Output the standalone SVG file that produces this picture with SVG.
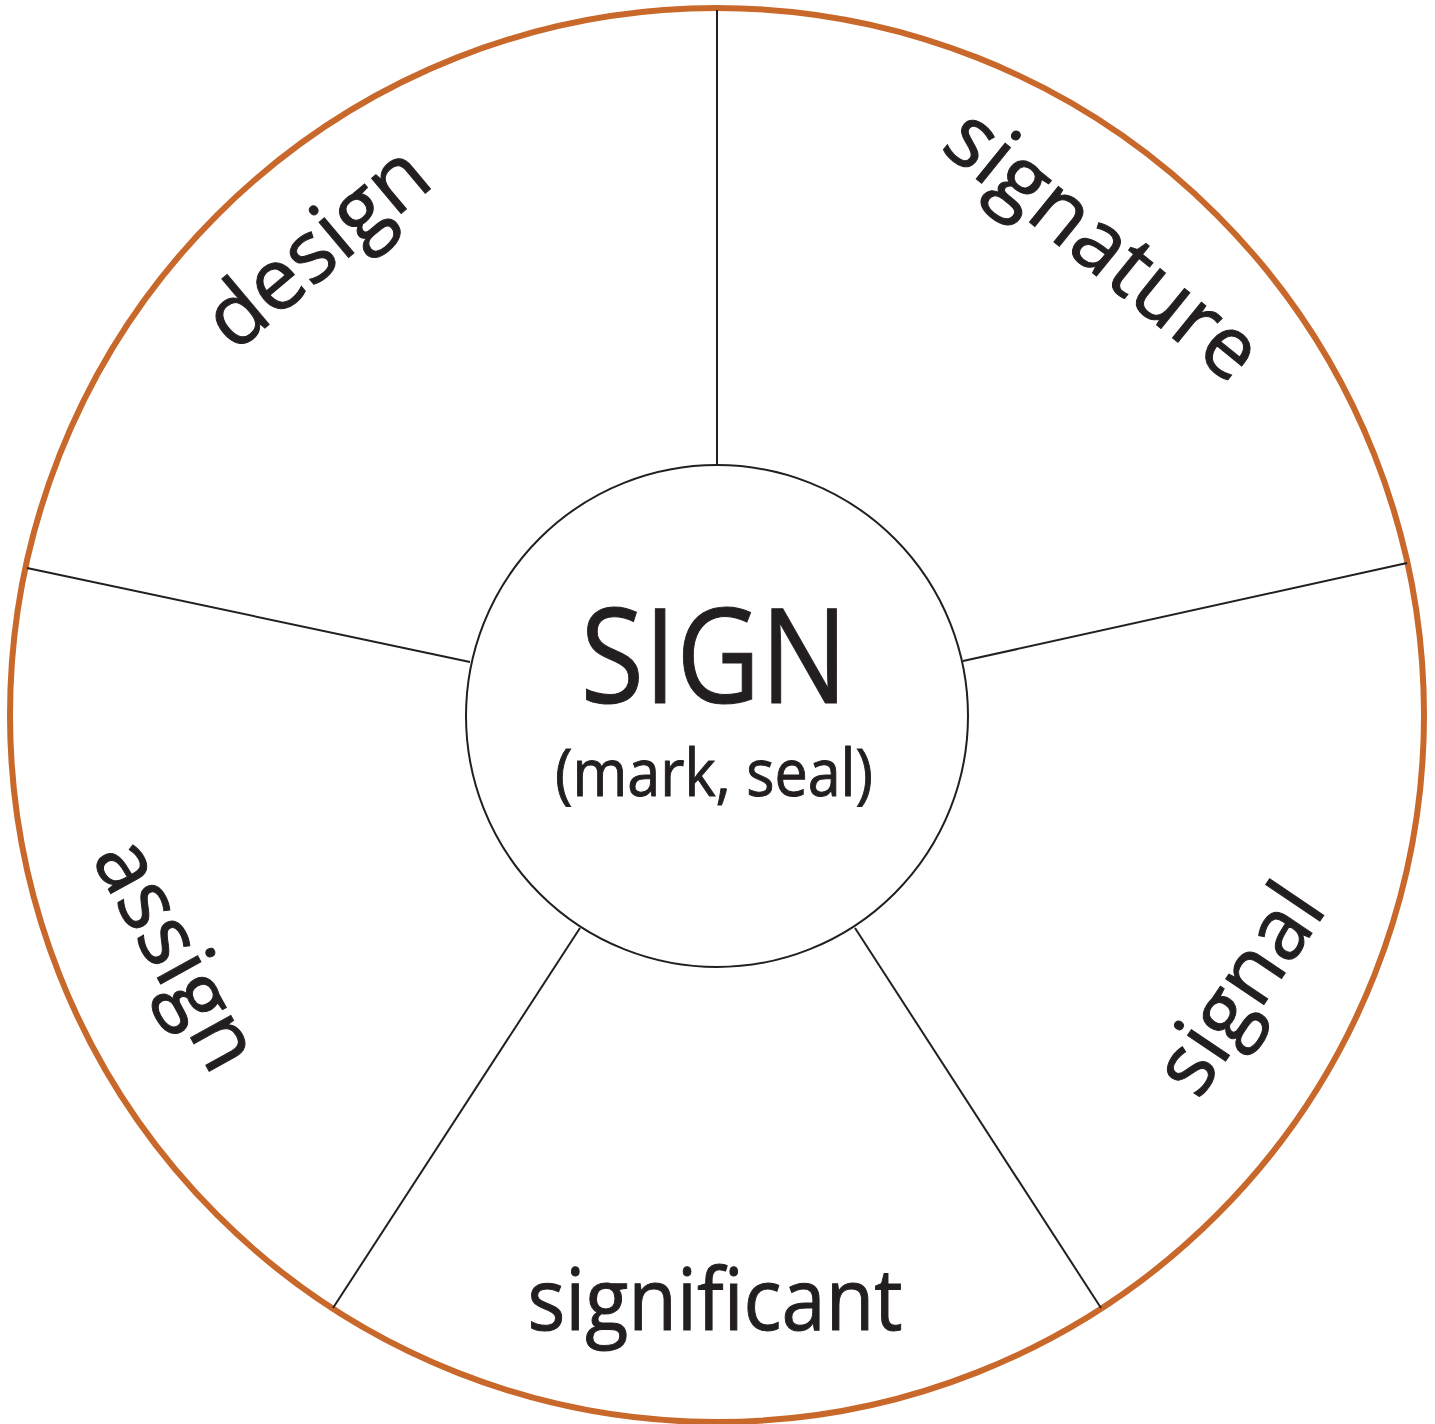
<svg xmlns="http://www.w3.org/2000/svg" width="1435" height="1424" viewBox="0 0 1435 1424">
<style>
.lbl{font-family:"Open Sans","Noto Sans","Liberation Sans",sans-serif;fill:#231F20;stroke:#231F20;stroke-width:1;text-anchor:middle}
.spoke{stroke:#231F20;stroke-width:2;fill:none}
</style>
<rect width="1435" height="1424" fill="#FFFFFF"/>
<g id="outer"><circle cx="717" cy="715" r="707" fill="none" stroke="#C8682B" stroke-width="6"/></g>
<g id="connectors">
<line class="spoke" x1="717" y1="10" x2="717" y2="465"/>
<line class="spoke" x1="963" y1="661" x2="1407" y2="563"/>
<line class="spoke" x1="470" y1="662" x2="27" y2="568"/>
<line class="spoke" x1="580" y1="928" x2="333" y2="1308"/>
<line class="spoke" x1="855" y1="928" x2="1101" y2="1308"/>
</g>
<g id="center">
<circle cx="717" cy="716" r="251" fill="#FFFFFF" stroke="#231F20" stroke-width="2"/>
<text class="lbl" x="714" y="703" font-size="132" stroke-width="1.8" textLength="267" lengthAdjust="spacingAndGlyphs">SIGN</text>
<text class="lbl" x="714" y="796" font-size="66" textLength="318" lengthAdjust="spacingAndGlyphs">(mark, seal)</text>
</g>
<g id="design"><text class="lbl" font-size="86" transform="translate(321,252) rotate(-40)" y="22">design</text></g>
<g id="signature"><text class="lbl" font-size="86" transform="translate(1099,250) rotate(39)" y="22">signature</text></g>
<g id="signal"><text class="lbl" font-size="86" transform="translate(1245,993) rotate(-56)" y="22">signal</text></g>
<g id="assign"><text class="lbl" font-size="86" transform="translate(171,957) rotate(61)" y="22">assign</text></g>
<g id="significant"><text class="lbl" x="715" y="1330" font-size="86" textLength="375" lengthAdjust="spacingAndGlyphs">significant</text></g>
</svg>
